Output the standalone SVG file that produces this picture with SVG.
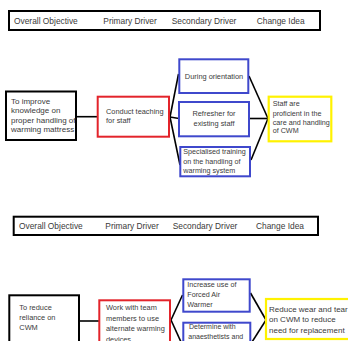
<svg xmlns="http://www.w3.org/2000/svg" width="348" height="341" viewBox="0 0 348 341">
<style>
text{font-family:"Liberation Sans",Arial,sans-serif;fill:#3a3a3a;}
.hdr{fill:#fff;stroke:#000;stroke-width:2;}
.obj{fill:#fff;stroke:#000;stroke-width:2;}
.pri{fill:#fff;stroke:#e3242b;stroke-width:2;}
.sec{fill:#fff;stroke:#3f48cc;stroke-width:2;}
.chg{fill:#fff;stroke:#fff200;stroke-width:2.2;}
.h{font-size:8.4px;}
.t8{font-size:8px;}
.t75{font-size:7.4px;}
.t72{font-size:7.2px;}
.t7{font-size:7px;}
.conn line{stroke:#000;stroke-width:1.6;}
</style>
<rect width="348" height="341" fill="#fff"/>

<g id="connectors" class="conn">
  <line x1="77" y1="116.7" x2="98" y2="116.7"/>
  <line x1="170" y1="117" x2="178.5" y2="74"/>
  <line x1="170" y1="117" x2="179" y2="118.5"/>
  <line x1="170" y1="117" x2="180" y2="165"/>
  <line x1="249" y1="76" x2="268" y2="118.5"/>
  <line x1="250" y1="118.5" x2="268" y2="118.5"/>
  <line x1="251" y1="160" x2="268" y2="118.5"/>
  <line x1="80" y1="321" x2="99.5" y2="321"/>
  <line x1="171" y1="320" x2="182.5" y2="295"/>
  <line x1="171" y1="320" x2="181" y2="342"/>
  <line x1="250.5" y1="293" x2="266" y2="320"/>
  <line x1="252" y1="342" x2="266" y2="320"/>
</g>

<g id="header1">
  <rect class="hdr" x="9" y="11" width="311" height="19"/>
  <text class="h" x="14" y="24">Overall Objective</text>
  <text class="h" x="103.3" y="24">Primary Driver</text>
  <text class="h" x="171.7" y="24">Secondary Driver</text>
  <text class="h" x="256.7" y="24">Change Idea</text>
</g>

<g id="objective1">
  <rect class="obj" x="6" y="91.5" width="70" height="48.5"/>
  <text class="t8" x="11" y="103.5">To improve</text>
  <text class="t8" x="11" y="113">knowledge on</text>
  <text class="t8" x="11" y="122.6">proper handling of</text>
  <text class="t8" x="11" y="132.2">warming mattress</text>
</g>

<g id="primary1">
  <rect class="pri" x="97.7" y="96.7" width="71.3" height="40"/>
  <text class="t75" x="106" y="113.5">Conduct teaching</text>
  <text class="t75" x="106" y="122.5">for staff</text>
</g>

<g id="secondary1a">
  <rect class="sec" x="179.3" y="59.3" width="69" height="33.7"/>
  <text class="t75" x="214" y="79" text-anchor="middle">During orientation</text>
</g>

<g id="secondary1b">
  <rect class="sec" x="179" y="102" width="70" height="34.3"/>
  <text class="t75" x="214" y="116" text-anchor="middle">Refresher for</text>
  <text class="t75" x="214" y="125.5" text-anchor="middle">existing staff</text>
</g>

<g id="secondary1c">
  <rect class="sec" x="180.3" y="147" width="69.7" height="29.3"/>
  <text class="t72" x="183.3" y="154.3">Specialised training</text>
  <text class="t72" x="183.3" y="163.6">on the handling of</text>
  <text class="t72" x="183.3" y="173">warming system</text>
</g>

<g id="change1">
  <rect class="chg" x="268.7" y="96.7" width="62.6" height="44.6"/>
  <text class="t72" x="272.7" y="106">Staff are</text>
  <text class="t72" x="272.7" y="115.5">proficient in the</text>
  <text class="t72" x="272.7" y="124.5">care and handling</text>
  <text class="t72" x="272.7" y="133.3">of CWM</text>
</g>

<g id="header2">
  <rect class="hdr" x="13.7" y="216.7" width="304.3" height="18.3"/>
  <text class="h" x="19" y="229">Overall Objective</text>
  <text class="h" x="105.3" y="229">Primary Driver</text>
  <text class="h" x="172.7" y="229">Secondary Driver</text>
  <text class="h" x="256" y="229">Change Idea</text>
</g>

<g id="objective2">
  <rect class="obj" x="9.3" y="295.3" width="69.7" height="60"/>
  <text class="t75" x="19.3" y="310">To reduce</text>
  <text class="t75" x="19.3" y="320">reliance on</text>
  <text class="t75" x="19.3" y="330">CWM</text>
</g>

<g id="primary2">
  <rect class="pri" x="99.3" y="300.3" width="70.7" height="60"/>
  <text class="t75" x="106" y="310">Work with team</text>
  <text class="t75" x="106" y="320.5">members to use</text>
  <text class="t75" x="106" y="331.3">alternate warming</text>
  <text class="t75" x="106" y="341.5">devices</text>
</g>

<g id="secondary2a">
  <rect class="sec" x="183.3" y="279.3" width="66.4" height="32.4"/>
  <text class="t72" x="187.3" y="287">Increase use of</text>
  <text class="t72" x="187.3" y="297">Forced Air</text>
  <text class="t72" x="187.3" y="306.7">Warmer</text>
</g>

<g id="secondary2b">
  <rect class="sec" x="183.3" y="322.7" width="67" height="40"/>
  <text class="t7" x="189" y="329">Determine with</text>
  <text class="t7" x="188.3" y="338.5">anaesthetists and</text>
</g>

<g id="change2">
  <rect class="chg" x="266" y="299" width="85" height="40"/>
  <text class="t8" x="269" y="311.5">Reduce wear and tear</text>
  <text class="t8" x="269" y="322.3">on CWM to reduce</text>
  <text class="t8" x="269" y="333">need for replacement</text>
</g>
</svg>
